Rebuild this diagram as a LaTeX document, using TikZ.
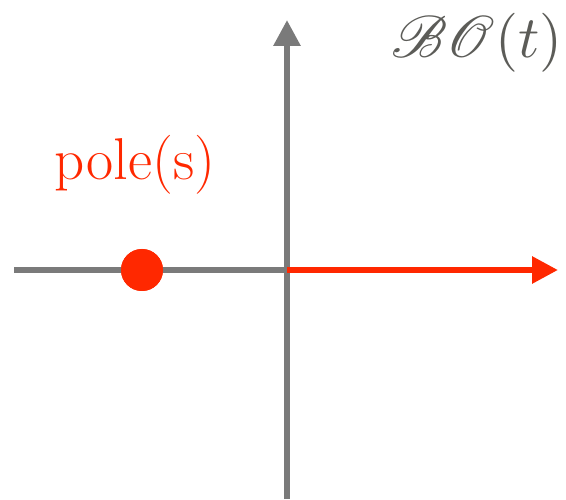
\documentclass[tikz,border=0pt]{standalone}
\usepackage{mathrsfs}
\usetikzlibrary{arrows.meta}
\definecolor{axisGray}{RGB}{122,122,122}
\definecolor{poleRed}{RGB}{255,40,0}
\definecolor{textGray}{RGB}{92,92,88}
\tikzset{
    EMPTY/.style={inner sep=0mm, outer sep=0mm},
    AXIS/.style={draw=axisGray, line width=6pt},
    RED_AXIS/.style={AXIS, draw=poleRed},
    POLE_DOT/.style={shape=circle, fill=poleRed, minimum size=42pt,
        inner sep=0mm, outer sep=0mm},
    LABEL/.style={EMPTY, text=poleRed, font={\fontsize{59}{64}\selectfont}},
    TITLE/.style={EMPTY, text=textGray}
}

\begin{document}
\begin{tikzpicture}[x=1pt, y=1pt]
    \useasboundingbox (0,0) rectangle (566,499);
    \node [EMPTY] (1) at (287, 229) {};
    \node [EMPTY] (2) at (287, 0) {};
    \node [EMPTY] (3) at (287, 479) {};
    \node [EMPTY] (4) at (14, 229) {};
    \node [EMPTY] (5) at (558, 229) {};
    \node [POLE_DOT] (6) at (142, 229) {};
    \node [LABEL, anchor=base] (7) at (135, 319) {pole(s)};
    \node [TITLE, anchor=base west] (8) at (391, 441) {\scalebox{5.9}{$\mathscr{B}\mathscr{O}(t)$}};
    \draw[AXIS] (4.center) to (1.center);
    \draw[AXIS, -{Triangle[length=26pt, width=26pt]}] (2.center) to (3.center);
    \draw[RED_AXIS, -{Triangle[length=26pt, width=26pt]}] (1.center) to (5.center);
    \node [POLE_DOT] at (6) {};
\end{tikzpicture}
\end{document}
